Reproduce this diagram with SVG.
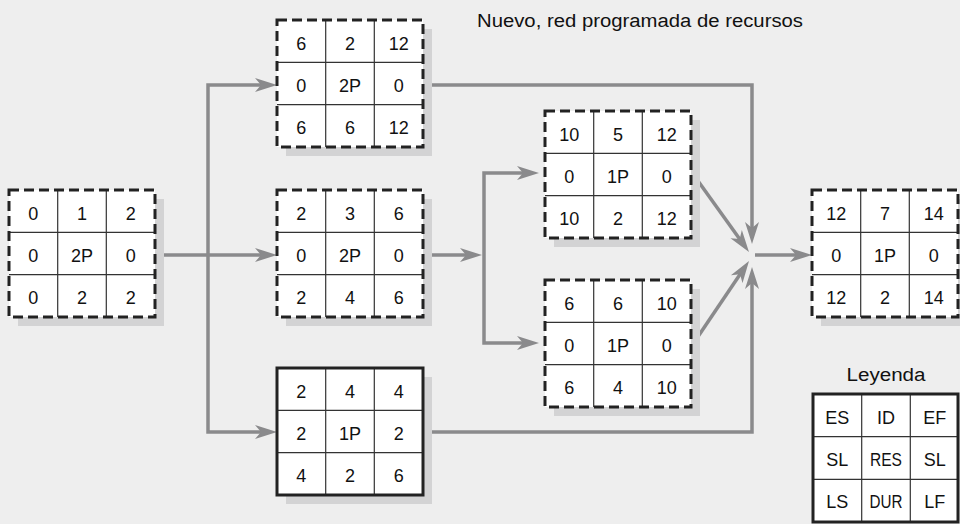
<svg xmlns="http://www.w3.org/2000/svg" xmlns:xlink="http://www.w3.org/1999/xlink" width="960" height="524" viewBox="0 0 960 524">
<style>
.bg{fill:#eeeeee}
.shadow{fill:#d3d3d4}
.cell{fill:#ffffff}
.grid{fill:none;stroke:#333;stroke-width:1.2}
.dash{fill:none;stroke:#222;stroke-width:3;stroke-dasharray:10 5}
.solid{fill:none;stroke:#222;stroke-width:3}
.conn{fill:none;stroke:#8a8a8c;stroke-width:3.5;stroke-linejoin:miter}
.arr{marker-end:url(#ah)}
text{font-family:"Liberation Sans",Arial,Helvetica,sans-serif;fill:#111}
.t{font-size:18px;text-anchor:middle}
.title{font-size:18px}
</style>
<defs>
<marker id="ah" markerUnits="userSpaceOnUse" markerWidth="24" markerHeight="16" refX="10" refY="8" orient="auto">
<path d="M0,1 L22,8 L0,15 L6,8 z" fill="#8a8a8c"/>
</marker>
<g id="frame">
<rect class="shadow" x="9" y="9" width="146" height="127"/>
<rect class="cell" width="146" height="127"/>
<path class="grid" d="M48.7,0V127M97.3,0V127M0,42.3H146M0,84.7H146"/>
</g>
</defs>
<rect class="bg" width="960" height="524"/>
<text class="title" x="477" y="27" textLength="326" lengthAdjust="spacingAndGlyphs">Nuevo, red programada de recursos</text>

<g id="connectors">
<path class="conn arr" d="M154,255 H265"/>
<path class="conn arr" d="M208,255 V85 H265"/>
<path class="conn arr" d="M208,255 V432 H265"/>
<path class="conn arr" d="M423,85 H752 V232"/>
<path class="conn arr" d="M423,432 H752 V279"/>
<path class="conn arr" d="M423,255 H470"/>
<path class="conn arr" d="M484,255 V173 H527"/>
<path class="conn arr" d="M484,255 V343 H527"/>
<path class="conn arr" d="M693,174 L742,242.3"/>
<path class="conn arr" d="M693,344 L742.3,270.9"/>
<path class="conn arr" d="M755,255 H800"/>
</g>

<g id="node1" transform="translate(9,190)">
<use xlink:href="#frame"/>
<rect class="dash" width="146" height="127"/>
<text class="t" x="24.3" y="30">0</text><text class="t" x="73" y="30">1</text><text class="t" x="121.7" y="30">2</text>
<text class="t" x="24.3" y="72">0</text><text class="t" x="73" y="72">2P</text><text class="t" x="121.7" y="72">0</text>
<text class="t" x="24.3" y="114">0</text><text class="t" x="73" y="114">2</text><text class="t" x="121.7" y="114">2</text>
</g>

<g id="node2" transform="translate(277,20)">
<use xlink:href="#frame"/>
<rect class="dash" width="146" height="127"/>
<text class="t" x="24.3" y="30">6</text><text class="t" x="73" y="30">2</text><text class="t" x="121.7" y="30">12</text>
<text class="t" x="24.3" y="72">0</text><text class="t" x="73" y="72">2P</text><text class="t" x="121.7" y="72">0</text>
<text class="t" x="24.3" y="114">6</text><text class="t" x="73" y="114">6</text><text class="t" x="121.7" y="114">12</text>
</g>

<g id="node3" transform="translate(277,190)">
<use xlink:href="#frame"/>
<rect class="dash" width="146" height="127"/>
<text class="t" x="24.3" y="30">2</text><text class="t" x="73" y="30">3</text><text class="t" x="121.7" y="30">6</text>
<text class="t" x="24.3" y="72">0</text><text class="t" x="73" y="72">2P</text><text class="t" x="121.7" y="72">0</text>
<text class="t" x="24.3" y="114">2</text><text class="t" x="73" y="114">4</text><text class="t" x="121.7" y="114">6</text>
</g>

<g id="node4" transform="translate(277,368)">
<use xlink:href="#frame"/>
<rect class="solid" width="146" height="127"/>
<text class="t" x="24.3" y="30">2</text><text class="t" x="73" y="30">4</text><text class="t" x="121.7" y="30">4</text>
<text class="t" x="24.3" y="72">2</text><text class="t" x="73" y="72">1P</text><text class="t" x="121.7" y="72">2</text>
<text class="t" x="24.3" y="114">4</text><text class="t" x="73" y="114">2</text><text class="t" x="121.7" y="114">6</text>
</g>

<g id="node5" transform="translate(545,111)">
<use xlink:href="#frame"/>
<rect class="dash" width="146" height="127"/>
<text class="t" x="24.3" y="30">10</text><text class="t" x="73" y="30">5</text><text class="t" x="121.7" y="30">12</text>
<text class="t" x="24.3" y="72">0</text><text class="t" x="73" y="72">1P</text><text class="t" x="121.7" y="72">0</text>
<text class="t" x="24.3" y="114">10</text><text class="t" x="73" y="114">2</text><text class="t" x="121.7" y="114">12</text>
</g>

<g id="node6" transform="translate(545,280)">
<use xlink:href="#frame"/>
<rect class="dash" width="146" height="127"/>
<text class="t" x="24.3" y="30">6</text><text class="t" x="73" y="30">6</text><text class="t" x="121.7" y="30">10</text>
<text class="t" x="24.3" y="72">0</text><text class="t" x="73" y="72">1P</text><text class="t" x="121.7" y="72">0</text>
<text class="t" x="24.3" y="114">6</text><text class="t" x="73" y="114">4</text><text class="t" x="121.7" y="114">10</text>
</g>

<g id="node7" transform="translate(812,190)">
<use xlink:href="#frame"/>
<rect class="dash" width="146" height="127"/>
<text class="t" x="24.3" y="30">12</text><text class="t" x="73" y="30">7</text><text class="t" x="121.7" y="30">14</text>
<text class="t" x="24.3" y="72">0</text><text class="t" x="73" y="72">1P</text><text class="t" x="121.7" y="72">0</text>
<text class="t" x="24.3" y="114">12</text><text class="t" x="73" y="114">2</text><text class="t" x="121.7" y="114">14</text>
</g>

<g id="legend">
<text class="title" x="886" y="381" text-anchor="middle" textLength="79" lengthAdjust="spacingAndGlyphs">Leyenda</text>
<g transform="translate(813,394)">
<rect class="cell" width="145" height="128"/>
<path class="grid" d="M48.7,0V128M97.3,0V128M0,42.7H145M0,85.3H145"/>
<rect class="solid" width="145" height="128"/>
<text class="t" x="24.3" y="30">ES</text><text class="t" x="73" y="30">ID</text><text class="t" x="121.7" y="30">EF</text>
<text class="t" x="24.3" y="72">SL</text><text class="t" x="73" y="72" textLength="32" lengthAdjust="spacingAndGlyphs">RES</text><text class="t" x="121.7" y="72">SL</text>
<text class="t" x="24.3" y="114">LS</text><text class="t" x="73" y="114" textLength="33" lengthAdjust="spacingAndGlyphs">DUR</text><text class="t" x="121.7" y="114">LF</text>
</g>
</g>
</svg>
